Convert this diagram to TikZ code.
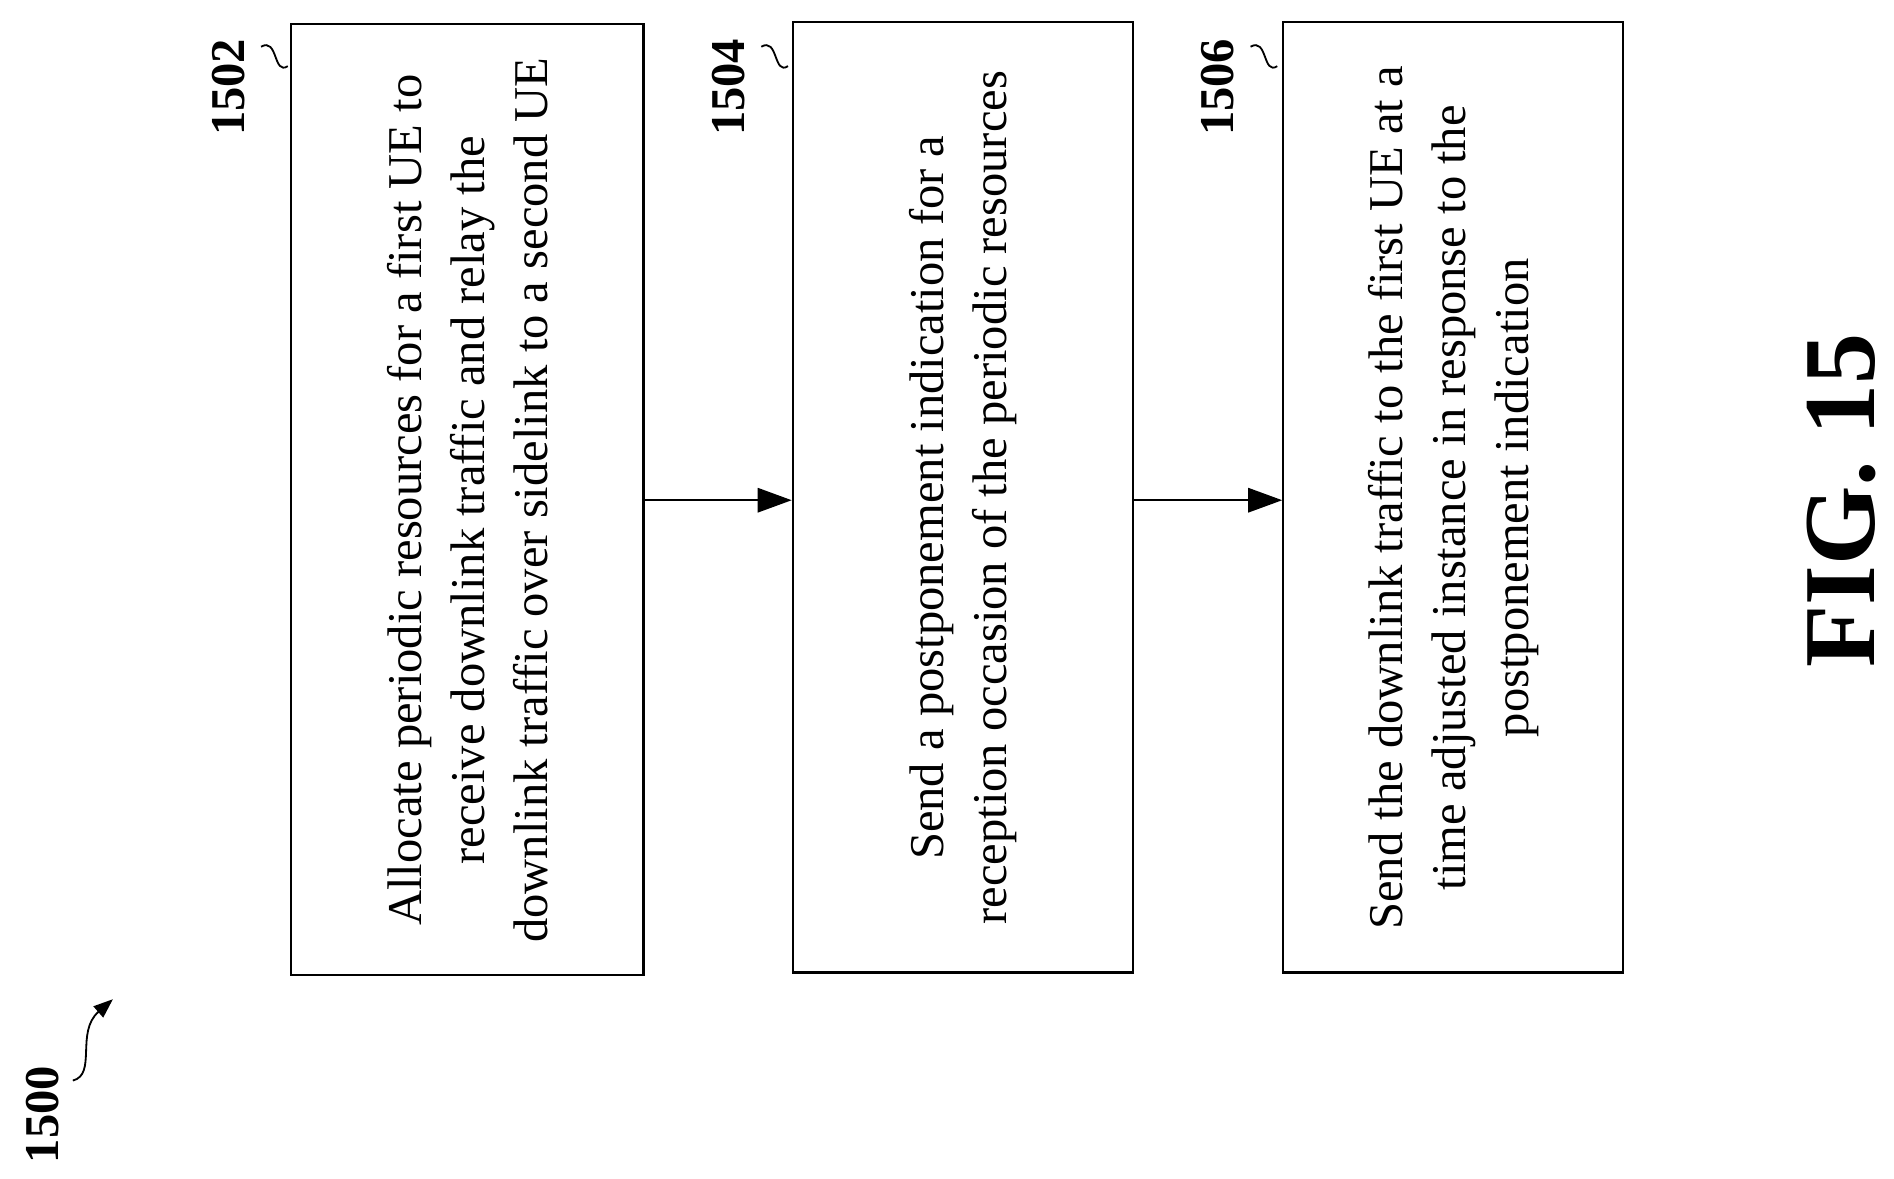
\documentclass[tikz,border=0pt]{standalone}
\usepackage{fontspec}
\setmainfont{Liberation Serif}
\usetikzlibrary{arrows.meta}
\begin{document}
\begin{tikzpicture}[x=1pt,y=-1pt,
  box/.style={draw,line width=1.8pt},
  txt/.style={rotate=90,align=center,font=\fontsize{40}{52}\selectfont},
  lab/.style={rotate=90,font=\fontsize{40}{44}\selectfont\bfseries},
  arr/.style={line width=1.8pt,-{Triangle[length=28pt,width=20pt]}},
  sq/.style={line width=1.5pt}]
\useasboundingbox (0,0) rectangle (1560,971);
\node[box,minimum width=290pt,minimum height=783pt] (b1) at (385,411.5) {};
\node[box,minimum width=280pt,minimum height=783pt] (b2) at (793,409.5) {};
\node[box,minimum width=280pt,minimum height=783pt] (b3) at (1197,409.5) {};
\node[txt] at (385,412) {Allocate periodic resources for a first UE to\\receive downlink traffic and relay the\\downlink traffic over sidelink to a second UE};
\node[txt] at (793,410) {Send a postponement indication for a\\reception occasion of the periodic resources};
\node[txt] at (1197,410) {Send the downlink traffic to the first UE at a\\time adjusted instance in response to the\\postponement indication};
\draw[arr] (b1.east |- 0,412) -- (b2.west |- 0,412);
\draw[arr] (b2.east |- 0,412) -- (b3.west |- 0,412);
\node[lab] (l1) at (188,72) {1502};
\node[lab] (l2) at (600,72) {1504};
\node[lab] (l3) at (1003,72) {1506};
\draw[sq] (l1.south east) ++(10,10) .. controls +(14,-8) and +(-12,8) .. ++(22,16);
\draw[sq] (l2.south east) ++(10,10) .. controls +(14,-8) and +(-12,8) .. ++(22,16);
\draw[sq] (l3.south east) ++(10,10) .. controls +(14,-8) and +(-12,8) .. ++(22,16);
\node[lab] (l0) at (35,918) {1500};
\coordinate (a0) at (93,823);
\draw[sq,-{Triangle[length=16pt,width=12pt]}] (60,890) .. controls (80,885) and (62,850) .. (a0);
\node[rotate=90,font=\fontsize{84}{90}\selectfont\bfseries] (fig) at (1517,412) {FIG. 15};
\end{tikzpicture}
\end{document}
